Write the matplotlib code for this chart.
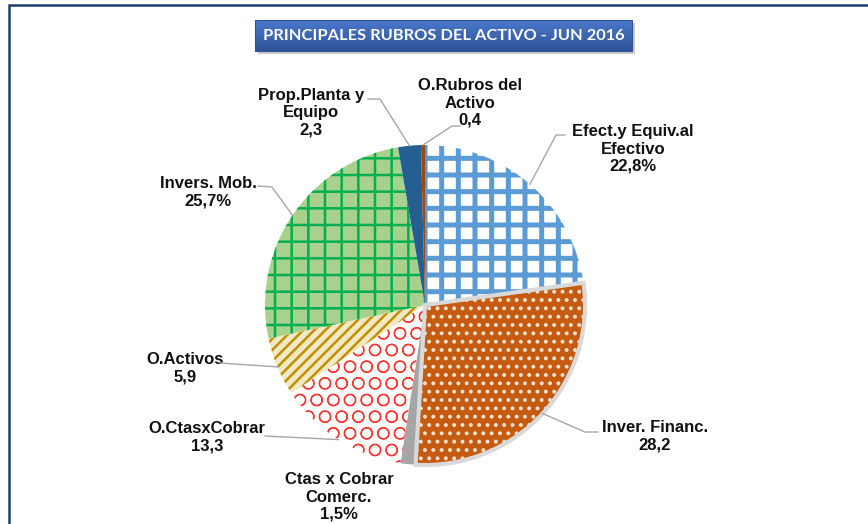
import numpy as np
import matplotlib
matplotlib.use("Agg")
import matplotlib.pyplot as plt
from matplotlib.patches import Rectangle, Wedge

# datos
rubros = ["Efect.y Equiv.al\nEfectivo", "Inver. Financ.", "Ctas x Cobrar\nComerc.",
          "O.CtasxCobrar", "O.Activos", "Invers. Mob.", "Prop.Planta y\nEquipo",
          "O.Rubros del\nActivo"]
valores = [22.8, 28.2, 1.5, 13.3, 5.9, 25.7, 2.3, 0.4]
con_pct = [True, False, True, False, False, True, False, False]

# estilo de cada porcion: (relleno, color trama, trama, grosor trama)
estilos = [
    ("white", "#5B9BD5", "+", 3.6),
    ("#C55A11", "#FBE3D2", "..", 1.6),
    ("#A5A5A5", "#A5A5A5", None, 1.0),
    ("white", "#FF3030", "O", 0.8),
    ("#F3E8C6", "#BF9000", "///", 1.8),
    ("#A9D18E", "#00B050", "+", 1.8),
    ("#255E91", "#255E91", None, 1.0),
    ("#9E480E", "#9E480E", None, 1.0),
]

W, H = 868, 524
fig = plt.figure(figsize=(W / 100, H / 100), dpi=100)
ax = fig.add_axes([0, 0, 1, 1])

cx, cy, R = 425, H - 305, 160
explode = [0, 0.08, 0, 0, 0, 0, 0, 0]
wedges, _ = ax.pie(valores, startangle=90, counterclock=False, radius=R,
                   center=(cx, cy), explode=explode)

for w, (fc, hc, hatch, hlw) in zip(wedges, estilos):
    w.set_facecolor(fc)
    w.set_edgecolor(hc)
    w.set_linewidth(0)
    if hatch:
        w.set_hatch(hatch)
        if hasattr(w, "set_hatch_linewidth"):
            w.set_hatch_linewidth(hlw)

# borde gris de la porcion separada
wf = wedges[1]
ax.add_patch(Wedge(wf.center, wf.r, wf.theta1, wf.theta2, fill=False,
                   edgecolor="#D9D9D9", linewidth=3, zorder=3))

ax.axis("off")

# etiquetas: (x, y) centro del texto, codo y extremo de la linea guia (pixeles)
pos_txt = [(633, 149), (655, 436), (339, 497), (207, 437), (185, 368),
           (208, 192), (311, 113), (470, 103)]
guias = [
    [(556, 135), (565, 135)],
    [(585, 432), (598, 432)],
    None,
    [(265, 436)],
    [(220, 363)],
    [(272, 187), (258, 186)],
    [(380, 99), (368, 99)],
    [(452, 126), (460, 126)],
]

for i, w in enumerate(wedges):
    txt = "%s\n%s%s" % (rubros[i], ("%.1f" % valores[i]).replace(".", ","),
                        "%" if con_pct[i] else "")
    x, y = pos_txt[i]
    ax.text(x, H - y, txt, ha="center", va="center", fontsize=12,
            fontweight="bold", family="Liberation Sans", linespacing=1.2,
            color="#111111")
    if guias[i]:
        ang = np.deg2rad((w.theta1 + w.theta2) / 2)
        px = w.center[0] + w.r * np.cos(ang)
        py = w.center[1] + w.r * np.sin(ang)
        xs = [px] + [p[0] for p in guias[i]]
        ys = [py] + [H - p[1] for p in guias[i]]
        ax.plot(xs, ys, color="#A6A6A6", linewidth=1, zorder=4)

# titulo con degradado
ax.add_patch(Rectangle((258, H - 54), 377, 31, facecolor="#9A9A9A",
                       alpha=0.5, linewidth=0))
grad = np.linspace(0, 1, 50).reshape(-1, 1)
ax.imshow(grad, cmap=matplotlib.colors.LinearSegmentedColormap.from_list(
    "azul", ["#2F5597", "#4A78CC"]), extent=[255, 632, H - 51, H - 20],
    origin="lower", aspect="auto", zorder=5)
ax.add_patch(Rectangle((255, H - 51), 377, 31, fill=False,
                       edgecolor="#2F5597", linewidth=0.8, zorder=6))
ax.text(443.5, H - 35.5, "PRINCIPALES RUBROS DEL ACTIVO - JUN 2016",
        ha="center", va="center", color="white", fontsize=11.8,
        fontweight="bold", family="Lato", zorder=7)

# marco
ax.add_patch(Rectangle((9, -30), 900, H - 5 + 30, fill=False,
                       edgecolor="#1F3B73", linewidth=1.8, clip_on=False))

ax.set_xlim(0, W)
ax.set_ylim(0, H)
ax.set_aspect("auto")

fig.savefig("out.png", dpi=100)
